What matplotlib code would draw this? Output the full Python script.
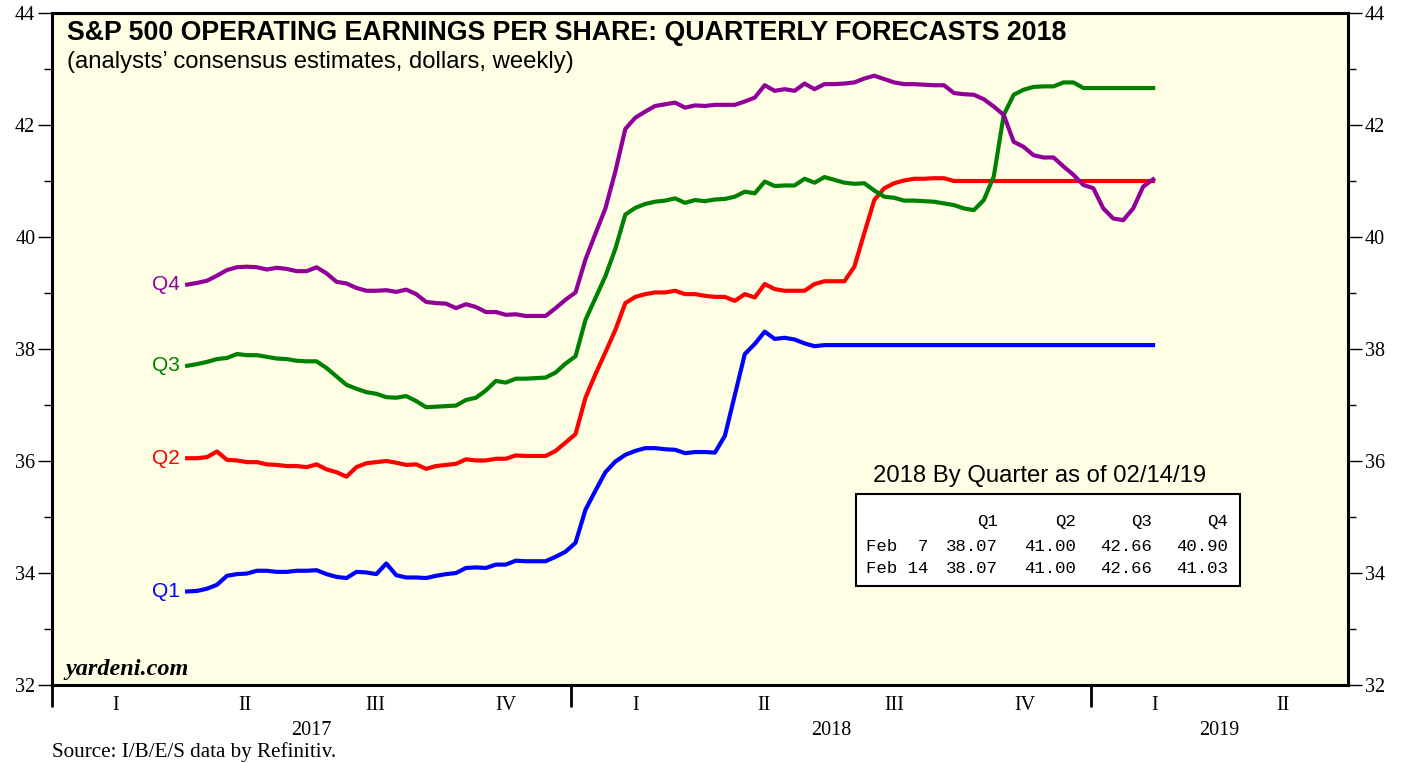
import pandas as pd
import matplotlib
matplotlib.use('Agg')
import matplotlib.pyplot as plt
import matplotlib.transforms as mtransforms
from matplotlib.ticker import MultipleLocator, NullFormatter
from matplotlib.patches import Rectangle

plt.rcParams['font.family'] = 'Liberation Serif'

# weekly consensus estimates, Thursdays
weeks = pd.date_range('2017-04-06', '2019-02-14', freq='W-THU')

q1 = [33.67, 33.68, 33.72, 33.79, 33.95, 33.98, 33.99, 34.04, 34.04, 34.02,
      34.02, 34.04, 34.04, 34.05, 33.98, 33.93, 33.91, 34.02, 34.01, 33.98,
      34.17, 33.96, 33.92, 33.92, 33.91, 33.95, 33.98, 34.00, 34.09, 34.10,
      34.09, 34.15, 34.15, 34.22, 34.21, 34.21, 34.21, 34.29, 34.38, 34.54,
      35.13, 35.47, 35.80, 35.99, 36.11, 36.18, 36.23, 36.23, 36.21, 36.20,
      36.14, 36.16, 36.16, 36.15, 36.45, 37.18, 37.91, 38.09, 38.31, 38.18,
      38.20, 38.17, 38.10, 38.05, 38.07, 38.07, 38.07, 38.07, 38.07, 38.07,
      38.07, 38.07, 38.07, 38.07, 38.07, 38.07, 38.07, 38.07, 38.07, 38.07,
      38.07, 38.07, 38.07, 38.07, 38.07, 38.07, 38.07, 38.07, 38.07, 38.07,
      38.07, 38.07, 38.07, 38.07, 38.07, 38.07, 38.07, 38.07]

q2 = [36.05, 36.05, 36.07, 36.17, 36.02, 36.01, 35.98, 35.98, 35.94, 35.93,
      35.91, 35.91, 35.89, 35.94, 35.85, 35.80, 35.72, 35.89, 35.96, 35.98,
      36.00, 35.97, 35.93, 35.94, 35.86, 35.91, 35.93, 35.95, 36.03, 36.01,
      36.01, 36.04, 36.04, 36.10, 36.09, 36.09, 36.09, 36.18, 36.33, 36.48,
      37.13, 37.55, 37.94, 38.34, 38.82, 38.93, 38.98, 39.01, 39.01, 39.04,
      38.98, 38.98, 38.95, 38.93, 38.93, 38.86, 38.98, 38.92, 39.16, 39.07,
      39.04, 39.04, 39.04, 39.16, 39.21, 39.21, 39.21, 39.47, 40.07, 40.66,
      40.87, 40.96, 41.01, 41.04, 41.04, 41.05, 41.05, 41.00, 41.00, 41.00,
      41.00, 41.00, 41.00, 41.00, 41.00, 41.00, 41.00, 41.00, 41.00, 41.00,
      41.00, 41.00, 41.00, 41.00, 41.00, 41.00, 41.00, 41.00]

q3 = [37.70, 37.73, 37.77, 37.82, 37.84, 37.91, 37.89, 37.89, 37.86, 37.83,
      37.82, 37.79, 37.78, 37.78, 37.66, 37.51, 37.36, 37.29, 37.23, 37.20,
      37.14, 37.13, 37.16, 37.07, 36.96, 36.97, 36.98, 36.99, 37.09, 37.13,
      37.26, 37.43, 37.40, 37.47, 37.47, 37.48, 37.49, 37.58, 37.74, 37.87,
      38.52, 38.91, 39.30, 39.79, 40.40, 40.52, 40.59, 40.63, 40.65, 40.69,
      40.61, 40.66, 40.64, 40.67, 40.68, 40.72, 40.81, 40.78, 40.99, 40.91,
      40.92, 40.92, 41.04, 40.97, 41.07, 41.02, 40.97, 40.95, 40.96, 40.83,
      40.72, 40.70, 40.65, 40.65, 40.64, 40.63, 40.60, 40.57, 40.51, 40.48,
      40.66, 41.08, 42.18, 42.54, 42.63, 42.68, 42.69, 42.69, 42.76, 42.76,
      42.66, 42.66, 42.66, 42.66, 42.66, 42.66, 42.66, 42.66]

q4 = [39.15, 39.18, 39.22, 39.31, 39.41, 39.46, 39.47, 39.46, 39.42, 39.45,
      39.43, 39.39, 39.39, 39.46, 39.35, 39.20, 39.17, 39.09, 39.04, 39.04,
      39.05, 39.02, 39.06, 38.98, 38.84, 38.82, 38.81, 38.73, 38.80, 38.75,
      38.66, 38.66, 38.61, 38.62, 38.59, 38.59, 38.59, 38.73, 38.88, 39.01,
      39.60, 40.06, 40.51, 41.17, 41.93, 42.13, 42.24, 42.34, 42.37, 42.40,
      42.31, 42.35, 42.34, 42.36, 42.36, 42.36, 42.42, 42.49, 42.71, 42.61,
      42.64, 42.61, 42.74, 42.64, 42.73, 42.73, 42.74, 42.76, 42.83, 42.88,
      42.82, 42.76, 42.73, 42.73, 42.72, 42.71, 42.71, 42.57, 42.55, 42.54,
      42.46, 42.33, 42.18, 41.70, 41.61, 41.46, 41.42, 41.42, 41.26, 41.11,
      40.93, 40.87, 40.51, 40.33, 40.30, 40.51, 40.90, 41.03]

series_names = ['Q1', 'Q2', 'Q3', 'Q4']
colors = ['#0000FF', '#FF0000', '#008000', '#900099']

table_cols = ['Q1', 'Q2', 'Q3', 'Q4']
table_rows = ['Feb  7', 'Feb 14']
table_vals = [['38.07', '41.00', '42.66', '40.90'],
              ['38.07', '41.00', '42.66', '41.03']]

quarter_names = ['I', 'II', 'III', 'IV']
years = [2017, 2018, 2019]

W, H = 1407, 763


def px(x, y):
    return x / W, 1 - y / H


fig = plt.figure(figsize=(W / 100, H / 100), dpi=100)
ax = fig.add_axes([52 / W, 1 - 685 / H, 1296 / W, 672 / H])
ax.set_facecolor('#FEFEE4')

for vals, col, name in zip([q1, q2, q3, q4], colors, series_names):
    ax.plot(weeks, vals, color=col, lw=3.0, solid_joinstyle='round')
    ax.annotate(name, xy=(weeks[0], vals[0]), xytext=(-5, 0),
                textcoords='offset points', ha='right', va='center',
                color=col, fontsize=15, family='Liberation Sans')

ax.set_xlim(pd.Timestamp('2017-01-01'), pd.Timestamp('2019-07-01'))
ax.set_ylim(32, 44)

# y axis, both sides
ax.yaxis.set_major_locator(MultipleLocator(2))
ax.yaxis.set_minor_locator(MultipleLocator(1))
ax.tick_params(axis='y', which='both', direction='out', left=True, right=True,
               labelleft=True, labelright=True, labelsize=14.5, pad=2)
ax.tick_params(axis='y', which='major', length=10, width=1)
ax.tick_params(axis='y', which='minor', length=6, width=1)

# x axis: year separators, quarter and year labels
ax.set_xticks([pd.Timestamp(f'{y}-01-01') for y in years])
ax.xaxis.set_major_formatter(NullFormatter())
ax.tick_params(axis='x', which='major', direction='out', length=16, width=2)

trans = mtransforms.blended_transform_factory(ax.transData, ax.transAxes)
qstarts = pd.date_range('2017-01-01', '2019-07-01', freq='QS')
for k in range(len(qstarts) - 1):
    mid = qstarts[k] + (qstarts[k + 1] - qstarts[k]) / 2
    ax.text(mid, -0.031, quarter_names[k % 4], transform=trans,
            ha='center', va='center', fontsize=14.5)
for y in years:
    a = pd.Timestamp(f'{y}-01-01')
    b = min(pd.Timestamp(f'{y + 1}-01-01'), pd.Timestamp('2019-07-01'))
    ax.text(a + (b - a) / 2, -0.068, str(y), transform=trans,
            ha='center', va='center', fontsize=14.5)

for s in ax.spines.values():
    s.set_linewidth(2.2)

# titles and notes
fig.text(*px(67, 33), 'S&P 500 OPERATING EARNINGS PER SHARE: QUARTERLY FORECASTS 2018',
         family='Liberation Sans', fontweight='bold', fontsize=19.3, va='center')
fig.text(*px(67, 62), '(analysts\u2019 consensus estimates, dollars, weekly)',
         family='Liberation Sans', fontsize=17.2, va='center')
fig.text(*px(65, 670), 'yardeni.com', fontweight='bold', style='italic',
         fontsize=17.5, va='center')
fig.text(*px(52, 752), 'Source: I/B/E/S data by Refinitiv.', fontsize=15.2,
         va='center')

# small table
fig.text(*px(1040, 476), '2018 By Quarter as of 02/14/19', family='Liberation Sans',
         fontsize=17.2, ha='center', va='center')
x0, y0 = px(856, 586)
x1, y1 = px(1240, 494)
fig.patches.append(Rectangle((x0, y0), x1 - x0, y1 - y0, transform=fig.transFigure,
                             facecolor='white', edgecolor='black', lw=1.5))
col_x = [998, 1076, 1152, 1228]
row_y = [546.7, 568.3]
for cx, name in zip(col_x, table_cols):
    fig.text(*px(cx, 521.7), name, family='Liberation Mono', fontsize=12.5,
             ha='right', va='center')
for ry, rname, rvals in zip(row_y, table_rows, table_vals):
    fig.text(*px(866, ry), rname, family='Liberation Mono', fontsize=12.5,
             ha='left', va='center')
    for cx, v in zip(col_x, rvals):
        fig.text(*px(cx, ry), v, family='Liberation Mono', fontsize=12.5,
                 ha='right', va='center')

fig.savefig('out.png', dpi=100)
